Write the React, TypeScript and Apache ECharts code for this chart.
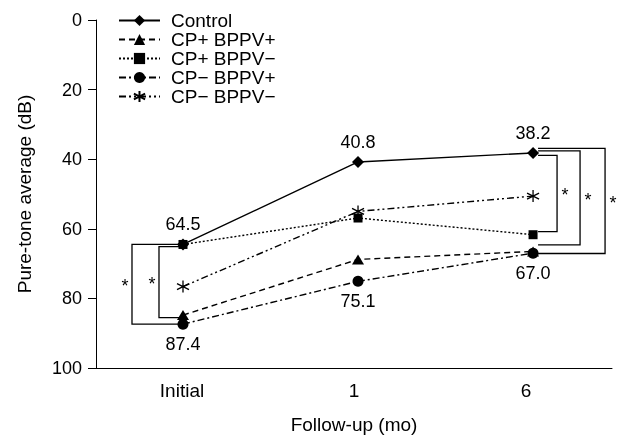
import React, { useEffect, useRef } from "react";
import * as echarts from "echarts";

const categories = ["Initial", "1", "6"];
const seriesNames = ["Control", "CP+ BPPV+", "CP+ BPPV−", "CP− BPPV+", "CP− BPPV−"];
const control = [64.5, 40.8, 38.2];
const cpPosBppvPos = [84.8, 68.8, 66.5];
const cpPosBppvNeg = [64.5, 56.9, 61.7];
const cpNegBppvPos = [87.4, 75.1, 67.0];
const cpNegBppvNeg = [76.6, 55.0, 50.6];
const yTicks = [0, 20, 40, 60, 80, 100];

// brackets: [category index, top value, bottom value, level, side(-1 left / 1 right)]
const brackets = [
  [0, 64.5, 87.4, 2, -1],
  [0, 65.1, 85.5, 1, -1],
  [2, 38.9, 60.8, 1, 1],
  [2, 37.6, 64.6, 2, 1],
  [2, 36.9, 67.1, 3, 1],
];

const FONT = "'Liberation Sans', Arial, sans-serif";
const asterisk = "path://M5 0 L5 10 M0.67 2.5 L9.33 7.5 M0.67 7.5 L9.33 2.5";
const NUM = 18;
const WORD = 19;

function pts(vals: number[]) {
  return vals.map((v, i) => [i, v]);
}

export default function App() {
  const ref = useRef<HTMLDivElement>(null);
  useEffect(() => {
    if (!ref.current) return;
    const chart = echarts.init(ref.current, undefined, { renderer: "svg" });
    const base = {
      type: "line",
      xAxisIndex: 1,
      yAxisIndex: 0,
      z: 3,
    };
    const lbl = (pos: string) => ({
      show: true,
      position: pos,
      distance: 5,
      fontSize: NUM,
      color: "#000",
      fontFamily: FONT,
      formatter: (p: any) => Number(p.value[1]).toFixed(1),
    });
    chart.setOption({
      animation: false,
      textStyle: { fontFamily: FONT, color: "#000" },
      grid: { left: 96, right: 10, top: 20, bottom: 69 },
      legend: {
        data: seriesNames,
        orient: "vertical",
        left: 118,
        top: 11,
        padding: 0,
        itemWidth: 41,
        itemHeight: 14,
        itemGap: 0,
        textStyle: { fontSize: WORD, color: "#000", fontFamily: FONT, padding: [0, 0, 0, 6] },
      },
      xAxis: [
        {
          type: "category",
          data: categories,
          boundaryGap: true,
          axisLine: { onZero: false, lineStyle: { color: "#000", width: 1 } },
          axisTick: { length: 7, lineStyle: { color: "#000" } },
          axisLabel: { fontSize: WORD, color: "#000", margin: 13, fontFamily: FONT },
          name: "Follow-up (mo)",
          nameLocation: "middle",
          nameGap: 47,
          nameTextStyle: { fontSize: WORD, color: "#000", fontFamily: FONT },
        },
        { type: "value", min: -0.497, max: 2.451, show: false, axisLine: { onZero: false } },
      ],
      yAxis: {
        type: "value",
        inverse: true,
        min: 0,
        max: 100,
        interval: 20,
        splitLine: { show: false },
        axisLine: { show: true, onZero: false, lineStyle: { color: "#000", width: 1 } },
        axisTick: { show: true, length: 8, lineStyle: { color: "#000" } },
        axisLabel: {
          fontSize: NUM,
          color: "#000",
          margin: 14,
          fontFamily: FONT,
          formatter: (v: number) => (yTicks.includes(v) ? String(v) : ""),
        },
        name: "Pure-tone average (dB)",
        nameLocation: "middle",
        nameGap: 62,
        nameTextStyle: { fontSize: WORD, color: "#000", fontFamily: FONT },
      },
      series: [
        {
          ...base,
          name: seriesNames[0],
          data: pts(control),
          symbol: "diamond",
          symbolSize: 12,
          lineStyle: { color: "#000", width: 1.4, type: "solid" },
          itemStyle: { color: "#000" },
          label: lbl("top"),
        },
        {
          ...base,
          name: seriesNames[1],
          data: pts(cpPosBppvPos),
          symbol: "triangle",
          symbolSize: [12, 10],
          lineStyle: { color: "#000", width: 1.4, type: [6, 4] },
          itemStyle: { color: "#000" },
        },
        {
          ...base,
          name: seriesNames[2],
          data: pts(cpPosBppvNeg),
          symbol: "rect",
          symbolSize: 9,
          lineStyle: { color: "#000", width: 1.4, type: [2, 2] },
          itemStyle: { color: "#000" },
        },
        {
          ...base,
          name: seriesNames[3],
          data: pts(cpNegBppvPos),
          symbol: "circle",
          symbolSize: 11,
          lineStyle: { color: "#000", width: 1.4, type: [7, 3, 2, 3] },
          itemStyle: { color: "#000" },
          label: lbl("bottom"),
        },
        {
          ...base,
          name: seriesNames[4],
          data: pts(cpNegBppvNeg),
          symbol: asterisk,
          symbolSize: 12,
          lineStyle: { color: "#000", width: 1.4, type: [7, 3, 2, 3, 2, 3] },
          itemStyle: { color: "#000", borderColor: "#000", borderWidth: 1.3 },
        },
        {
          type: "custom",
          xAxisIndex: 1,
          yAxisIndex: 0,
          silent: true,
          z: 2,
          data: brackets,
          encode: { x: 0, y: [1, 2] },
          renderItem: (params: any, api: any) => {
            const c = api.value(0);
            const top = api.coord([c, api.value(1)]);
            const bot = api.coord([c, api.value(2)]);
            const level = api.value(3);
            const side = api.value(4);
            let vx: number, ex: number, sx: number;
            if (side < 0) {
              vx = top[0] - (level === 1 ? 24 : 51);
              ex = top[0] - 2;
              sx = vx - 7;
            } else {
              vx = top[0] + (level === 1 ? 24 : level === 2 ? 47 : 72);
              ex = top[0] + 5;
              sx = vx + 8;
            }
            const mid = (top[1] + bot[1]) / 2;
            return {
              type: "group",
              children: [
                {
                  type: "polyline",
                  shape: {
                    points: [
                      [ex, top[1]],
                      [vx, top[1]],
                      [vx, bot[1]],
                      [ex, bot[1]],
                    ],
                  },
                  style: { stroke: "#000", lineWidth: 1.3, fill: "none" },
                },
                {
                  type: "text",
                  x: sx,
                  y: mid + 2,
                  style: {
                    text: "*",
                    fontSize: NUM,
                    fontFamily: FONT,
                    fill: "#000",
                    align: "center",
                    verticalAlign: "middle",
                  },
                },
              ],
            };
          },
        },
      ],
    });
    return () => chart.dispose();
  }, []);
  return (
    <div
      ref={ref}
      style={{ position: "fixed", left: 0, top: 0, width: 622, height: 439 }}
    />
  );
}
